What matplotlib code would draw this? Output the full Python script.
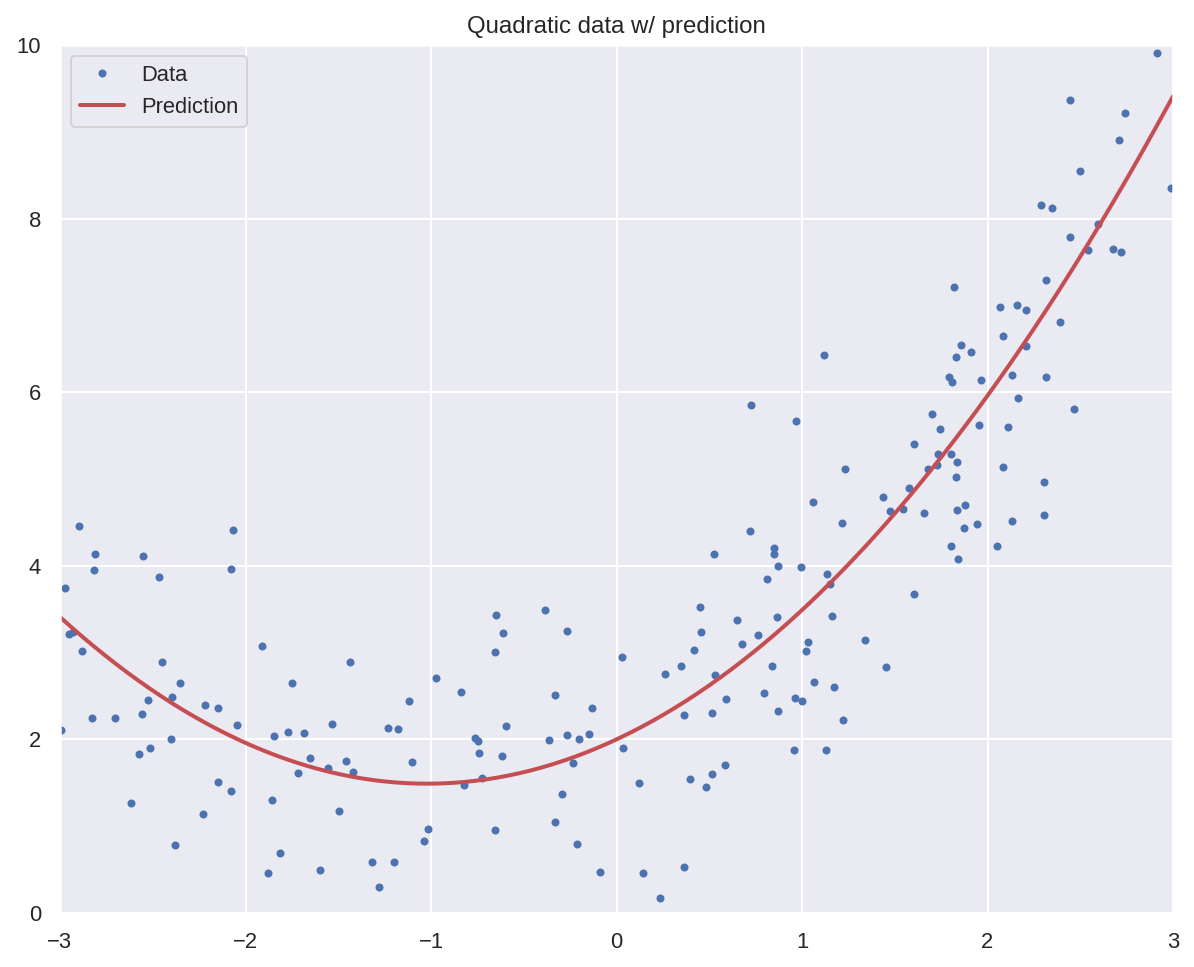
'''Scatter of noisy quadratic data with the fitted polynomial prediction.'''

import numpy as np
import matplotlib
matplotlib.use('Agg')
import matplotlib.pyplot as plt
import seaborn as sns


# Data points (x, y)
x_data = [
    -2.896, -2.067, -2.810, -2.551, -2.815, -2.077, -2.466, -2.973, -2.950, -2.932,
    -2.881, -2.448, -2.351, -2.395, -2.524, -2.217, -2.147, -2.556, -2.828, -2.702,
    -2.044, -2.995, -2.400, -2.515, -2.574, -2.147, -2.077, -2.616, -2.229, -2.378,
    -1.909, -1.435, -1.749, -0.971, -1.117, -1.532, -1.845, -1.769, -1.683, -1.230,
    -1.176, -1.652, -1.554, -1.457, -1.419, -1.717, -1.101, -1.856, -1.494, -1.015,
    -1.038, -1.812, -1.877, -1.598, -1.316, -1.199, -1.279,
    -0.648, -0.384, -0.610, -0.267, -0.653, 0.030, -0.837, -0.330, -0.130, -0.594,
    -0.761, -0.745, -0.362, -0.267, -0.200, -0.147, -0.740, -0.616, -0.233, 0.037,
    -0.723, -0.820, -0.292, -0.653, -0.330, -0.211, -0.087,
    0.527, 0.450, 0.457, 0.419, 0.263, 0.348, 0.533, 0.366, 0.515, 0.123,
    0.396, 0.515, 0.484, 0.145, 0.366, 0.236,
    0.727, 0.968, 0.721, 0.851, 0.851, 0.873, 0.996, 0.811, 0.651, 0.865,
    0.764, 0.678, 1.034, 1.022, 0.840, 0.592, 0.797, 0.962, 1.002, 0.873,
    0.959, 0.587,
    1.119, 1.233, 1.061, 1.438, 1.474, 1.546, 1.216, 1.136, 1.153, 1.164,
    1.341, 1.453, 1.065, 1.174, 1.223, 1.131,
    1.821, 1.859, 1.913, 1.830, 1.792, 1.810, 1.966, 1.702, 1.745, 1.956,
    1.605, 1.735, 1.805, 1.837, 1.729, 1.679, 1.830, 1.577, 1.659, 1.837,
    1.879, 1.875, 1.945, 1.805, 1.843, 1.605, 2.052,
    2.288, 2.348, 2.445, 2.317, 2.068, 2.161, 2.209, 2.391, 2.085, 2.209,
    2.134, 2.317, 2.166, 2.468, 2.112, 2.085, 2.306, 2.306, 2.134,
    2.915, 2.743, 2.711, 2.499, 2.991, 2.596, 2.544, 2.678, 2.721, 2.446,
]
y_data = [
    4.455, 4.409, 4.132, 4.109, 3.948, 3.960, 3.867, 3.741, 3.211, 3.241,
    3.015, 2.888, 2.646, 2.485, 2.450, 2.396, 2.358, 2.293, 2.243, 2.243,
    2.162, 2.105, 2.001, 1.901, 1.828, 1.506, 1.402, 1.264, 1.141, 0.780,
    3.072, 2.888, 2.646, 2.704, 2.439, 2.174, 2.036, 2.082, 2.070, 2.128,
    2.116, 1.782, 1.667, 1.748, 1.621, 1.609, 1.736, 1.298, 1.172, 0.964,
    0.826, 0.688, 0.457, 0.492, 0.584, 0.584, 0.296,
    3.430, 3.487, 3.222, 3.245, 3.003, 2.946, 2.543, 2.508, 2.358, 2.151,
    2.016, 1.978, 1.990, 2.047, 2.001, 2.062, 1.840, 1.805, 1.725, 1.897,
    1.555, 1.471, 1.367, 0.952, 1.045, 0.791, 0.469,
    4.132, 3.522, 3.234, 3.030, 2.750, 2.842, 2.740, 2.278, 2.300, 1.494,
    1.540, 1.598, 1.448, 0.457, 0.526, 0.169,
    5.849, 5.665, 4.397, 4.202, 4.132, 3.994, 3.983, 3.844, 3.372, 3.407,
    3.199, 3.096, 3.119, 3.015, 2.842, 2.462, 2.531, 2.473, 2.439, 2.324,
    1.874, 1.702,
    6.425, 5.112, 4.732, 4.789, 4.628, 4.651, 4.490, 3.902, 3.787, 3.418,
    3.142, 2.831, 2.658, 2.600, 2.220, 1.874,
    7.208, 6.540, 6.460, 6.402, 6.175, 6.114, 6.137, 5.745, 5.573, 5.619,
    5.400, 5.285, 5.285, 5.192, 5.158, 5.112, 5.020, 4.893, 4.605, 4.639,
    4.697, 4.432, 4.478, 4.225, 4.075, 3.672, 4.225,
    8.153, 8.119, 7.785, 7.289, 6.978, 7.001, 6.943, 6.805, 6.644, 6.529,
    6.195, 6.172, 5.930, 5.803, 5.596, 5.135, 4.962, 4.582, 4.513,
    9.904, 9.213, 8.902, 8.545, 8.349, 7.938, 7.634, 7.646, 7.612, 9.363,
]

# Prediction: quadratic coefficients (x^2, x, 1)
pred_coefs = [0.49, 1.0, 2.0]
x_range = [-3, 3]
y_range = [0, 10]


sns.set_theme()
plt.rcParams['font.family'] = ['Liberation Sans', 'DejaVu Sans']

fig = plt.figure(figsize=(1194 / 144, 967 / 144), dpi=144)
ax = fig.add_axes([60 / 1194, 1 - 913 / 967, 1113 / 1194, 868 / 967])

x_new = np.linspace(x_range[0], x_range[1], 200)
y_new = np.polyval(pred_coefs, x_new)

ax.plot(x_data, y_data, 'b.', label='Data')
ax.plot(x_new, y_new, 'r-', linewidth=2, label='Prediction')

ax.set_xlim(x_range)
ax.set_ylim(y_range)
ax.set_title('Quadratic data w/ prediction')
ax.legend(loc='upper left')

fig.savefig('out.png', dpi=144)
